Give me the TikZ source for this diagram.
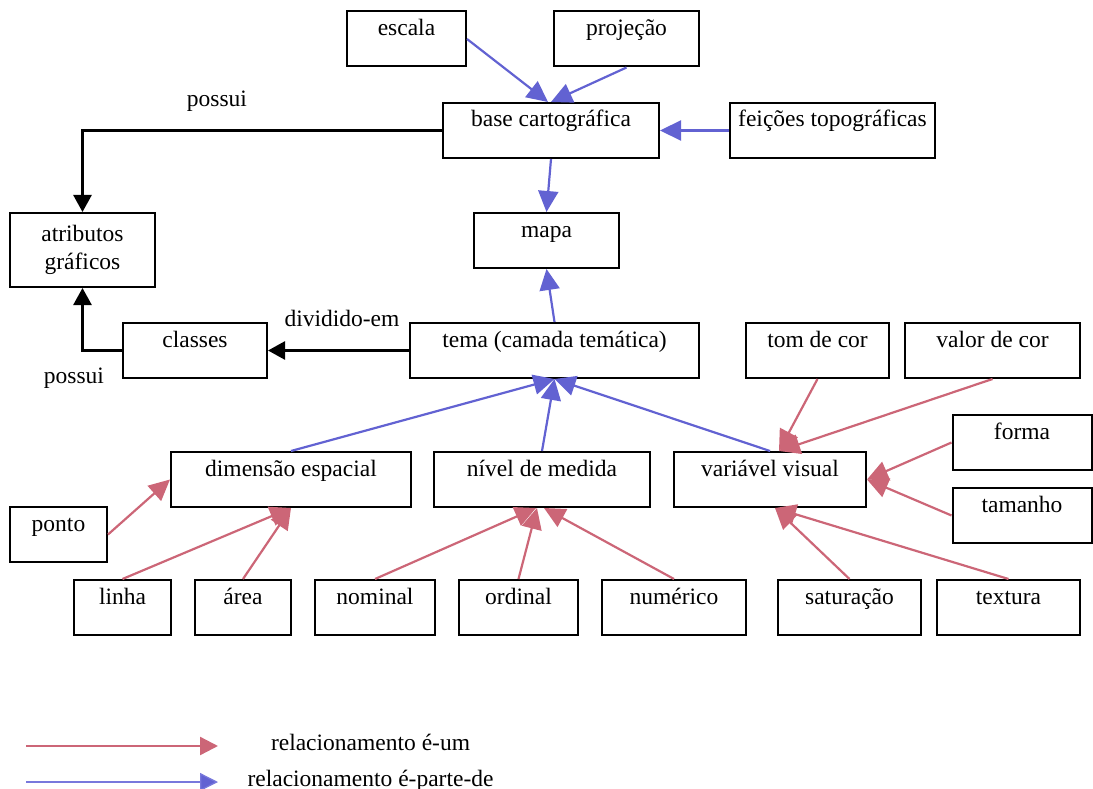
\documentclass[tikz,border=0pt]{standalone}
\usepackage{fontspec}
\setmainfont{Liberation Serif}
\usetikzlibrary{arrows.meta,calc}
\definecolor{isared}{RGB}{204,102,119}
\definecolor{partblue}{RGB}{98,98,210}
\definecolor{legblue}{RGB}{120,120,220}
\begin{document}
\begin{tikzpicture}[x=1pt,y=-1pt,
  every node/.style={font=\fontsize{23.5}{28}\selectfont},
  box/.style={draw=black, line width=2pt, rectangle, inner sep=0pt, text height=24pt, text depth=31pt, align=center},
  tallbox/.style={draw=black, line width=2pt, rectangle, inner sep=0pt, minimum height=74pt, align=center},
  isa/.style={draw=isared, line width=2.2pt, -{Triangle[length=21pt,width=20pt]}},
  partof/.style={draw=partblue, line width=2.2pt, -{Triangle[length=21pt,width=20pt]}},
  rel/.style={draw=black, line width=2.6pt, -{Triangle[length=17pt,width=18pt]}},
  lbl/.style={anchor=base, inner sep=0pt}
]
\useasboundingbox (0,0) rectangle (1093,789);

% boxes
\node[box, minimum width=119pt] (escala) at (406.5,39) {escala};
\node[box, minimum width=145pt] (projecao) at (626.5,39) {projeção};
\node[box, minimum width=216pt] (base) at (551,130.5) {base cartográfica};
\node[box, minimum width=205pt] (feicoes) at (832.5,130.5) {feições topográficas};
\node[tallbox, minimum width=145pt] (atributos) at (82.5,250) {atributos\\gráficos};
\node[box, minimum width=145pt] (mapa) at (546.5,240.5) {mapa};
\node[box, minimum width=144pt] (classes) at (195,350.5) {classes};
\node[box, minimum width=289pt] (tema) at (554.5,350.5) {tema (camada temática)};
\node[box, minimum width=143pt] (tom) at (817.5,350.5) {tom de cor};
\node[box, minimum width=175pt] (valor) at (992.5,350.5) {valor de cor};
\node[box, minimum width=139pt] (forma) at (1022,442.5) {forma};
\node[box, minimum width=139pt] (tamanho) at (1022,515.5) {tamanho};
\node[box, minimum width=240pt] (dimensao) at (291,479.5) {dimensão espacial};
\node[box, minimum width=216pt] (nivel) at (542,479.5) {nível de medida};
\node[box, minimum width=192pt] (variavel) at (770,479.5) {variável visual};
\node[box, minimum width=97pt] (ponto) at (58.5,534.5) {ponto};
\node[box, minimum width=97pt] (linha) at (122.5,607.5) {linha};
\node[box, minimum width=96pt] (area) at (243,607.5) {área};
\node[box, minimum width=120pt] (nominal) at (375,607.5) {nominal};
\node[box, minimum width=119pt] (ordinal) at (518.5,607.5) {ordinal};
\node[box, minimum width=144pt] (numerico) at (674,607.5) {numérico};
\node[box, minimum width=143pt] (saturacao) at (849.5,607.5) {saturação};
\node[box, minimum width=143pt] (textura) at (1008.5,607.5) {textura};

% labels
\node[lbl] (lpossui1) at (217,107) {possui};
\node[lbl] (ldividido) at (342,326) {dividido-em};
\node[lbl] (lpossui2) at (74,383) {possui};

% black relations
\draw[rel] (base.west) -| (atributos.north);
\draw[rel] (classes.west) -| (atributos.south);
\draw[rel] (tema.west) -- (classes.east);

% part-of (blue)
\draw[partof] (escala.east) -- ($(base.north)+(-3,0)$);
\draw[partof] (projecao.south) -- (base.north);
\draw[partof] (feicoes.west) -- (base.east);
\draw[partof] (base.south) -- (mapa.north);
\draw[partof] (tema.north) -- (mapa.south);
\draw[partof] (dimensao.north) -- (tema.south);
\draw[partof] (nivel.north) -- (tema.south);
\draw[partof] (variavel.north) -- (tema.south);

% is-a (red)
\draw[isa] (ponto.east) -- (dimensao.west);
\draw[isa] (linha.north) -- (dimensao.south);
\draw[isa] (area.north) -- (dimensao.south);
\draw[isa] (nominal.north) -- ($(nivel.south)+(-6,0)$);
\draw[isa] (ordinal.north) -- ($(nivel.south)+(-5,0)$);
\draw[isa] (numerico.north) -- ($(nivel.south)+(2,0)$);
\draw[isa] (tom.south) -- ($(variavel.north)+(9,0)$);
\draw[isa] (valor.south) -- ($(variavel.north)+(9,0)$);
\draw[isa] (forma.west) -- (variavel.east);
\draw[isa] (tamanho.west) -- (variavel.east);
\draw[isa] (saturacao.north) -- ($(variavel.south)+(5,0)$);
\draw[isa] (textura.north) -- ($(variavel.south)+(5,0)$);

% legend
\coordinate (la1) at (26,746);
\coordinate (la2) at (218,746);
\coordinate (lb1) at (26,782);
\coordinate (lb2) at (218,782);
\draw[draw=isared, line width=2.4pt, -{Triangle[length=18pt,width=18pt]}] (la1) -- (la2);
\draw[draw=legblue, line width=1.3pt, -{Triangle[length=18pt,width=18pt,fill=partblue]}] (lb1) -- (lb2);
\node[lbl] (leg1) at (370.5,750) {relacionamento é-um};
\node[lbl] (leg2) at (370.5,786) {relacionamento é-parte-de};
\end{tikzpicture}
\end{document}
